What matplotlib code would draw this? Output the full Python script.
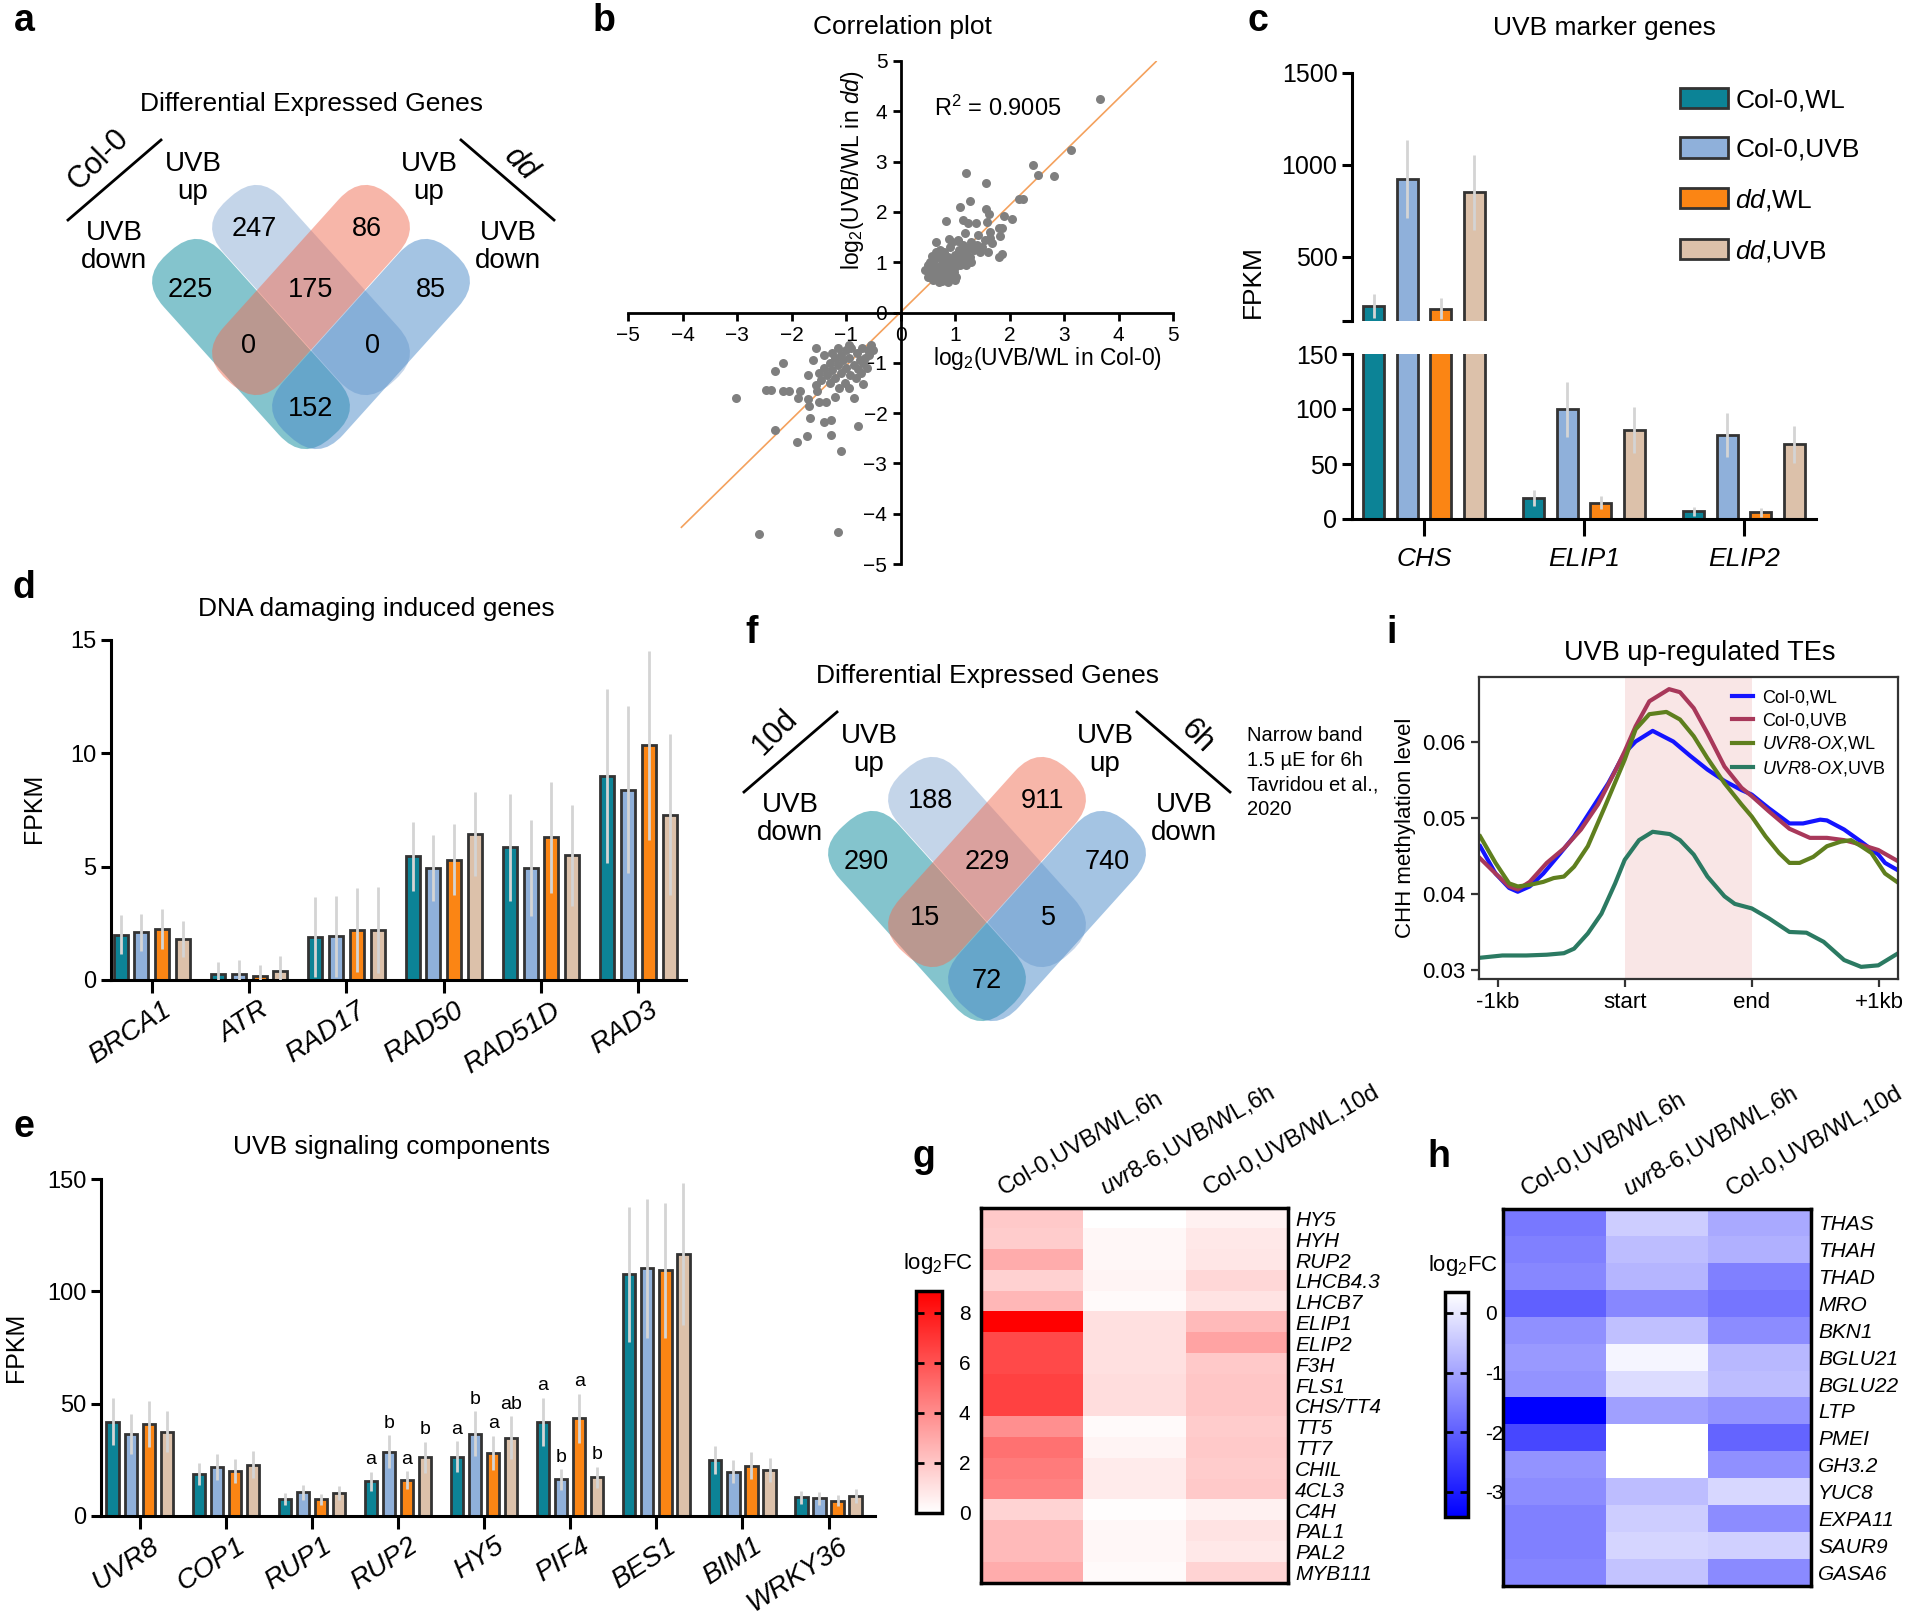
import numpy as np
import matplotlib
matplotlib.use("Agg")
import matplotlib.pyplot as plt
from matplotlib.patches import FancyBboxPatch, Patch
from matplotlib.transforms import Affine2D, offset_copy, ScaledTranslation
from matplotlib.colors import LinearSegmentedColormap

plt.rcParams['font.family'] = 'Liberation Sans'
plt.rcParams['mathtext.fontset'] = 'custom'
plt.rcParams['mathtext.rm'] = 'Liberation Sans'
plt.rcParams['mathtext.it'] = 'Liberation Sans:italic'
plt.rcParams['mathtext.default'] = 'regular'

# ---------------- data ----------------
# venn counts: Col-0 up only, dd up only, Col-0 down only, up/up, dd down only, down/up, up/down, down/down
venn_a_counts = [247, 86, 225, 175, 85, 0, 0, 152]
venn_f_counts = [188, 911, 290, 229, 740, 15, 5, 72]

# correlation plot (log2 UVB/WL, Col-0 vs dd)
up_pts = [(3.66, 4.25), (3.13, 3.23), (2.43, 2.94), (2.53, 2.74), (2.81, 2.71), (1.20, 2.77),
          (1.56, 2.58), (1.28, 2.21), (1.10, 2.10), (2.17, 2.26), (2.25, 2.26), (2.05, 1.85),
          (1.90, 1.92), (1.57, 2.05), (1.62, 1.96), (0.84, 1.81), (1.14, 1.83), (1.24, 1.78),
          (1.38, 1.77), (1.19, 1.58), (1.58, 1.80), (1.81, 1.67), (1.87, 1.68), (1.82, 1.52),
          (1.64, 1.48), (1.67, 1.39), (1.80, 1.11), (1.87, 1.17), (1.61, 1.21), (0.66, 1.41),
          (0.89, 1.46), (1.05, 1.42),
          (0.45, 0.85), (0.50, 0.95), (0.50, 0.70), (0.55, 0.80), (0.55, 1.00), (0.60, 0.90),
          (0.60, 0.65), (0.62, 1.05), (0.65, 0.75), (0.68, 0.90), (0.70, 1.10), (0.70, 0.60),
          (0.72, 0.80), (0.75, 0.95), (0.75, 0.70), (0.78, 1.05), (0.80, 0.85), (0.80, 1.20),
          (0.82, 0.65), (0.85, 0.95), (0.85, 0.75), (0.88, 1.10), (0.90, 0.85), (0.90, 1.30),
          (0.92, 0.70), (0.95, 1.00), (0.98, 0.80), (1.00, 1.15), (1.00, 0.90), (1.02, 0.70),
          (1.05, 1.05), (1.08, 1.25), (1.10, 0.95), (1.12, 1.15), (1.15, 1.35), (1.18, 1.05),
          (1.20, 1.20), (1.25, 1.30), (1.28, 1.10), (1.30, 1.40), (1.35, 1.25), (1.40, 1.35),
          (1.45, 1.20), (1.50, 1.30), (0.58, 1.12), (0.65, 1.20), (0.72, 1.25), (0.95, 1.40),
          (1.05, 1.45), (0.60, 0.78), (0.68, 0.68), (0.77, 0.62), (0.88, 0.60), (1.00, 0.65),
          (1.20, 0.95), (1.30, 1.00), (1.55, 1.45), (1.65, 1.60), (1.42, 1.55)]
down_pts = [(-3.02, -1.70), (-2.59, -4.40), (-1.14, -4.37), (-1.10, -2.76), (-1.90, -2.57),
            (-1.71, -2.46), (-1.27, -2.43), (-2.31, -2.34), (-0.78, -2.26), (-1.66, -2.10),
            (-1.40, -2.17), (-1.28, -2.14), (-2.31, -1.17), (-2.16, -1.01), (-2.47, -1.54),
            (-2.37, -1.54), (-2.16, -1.56), (-2.04, -1.56), (-1.88, -1.70), (-1.84, -1.56),
            (-1.70, -1.71), (-1.69, -1.25), (-1.55, -0.70), (-0.85, -1.70), (-0.68, -1.43),
            (-0.94, -1.51), (-1.21, -1.67), (-1.68, -1.86), (-1.50, -1.78), (-1.36, -1.77),
            (-1.54, -1.56),
            (-0.55, -0.65), (-0.60, -0.75), (-0.65, -0.90), (-0.70, -0.70), (-0.75, -0.95),
            (-0.80, -0.80), (-0.85, -1.05), (-0.90, -0.70), (-0.95, -0.90), (-1.00, -1.10),
            (-1.00, -0.75), (-1.05, -0.95), (-1.10, -1.20), (-1.10, -0.85), (-1.15, -1.05),
            (-1.20, -1.30), (-1.20, -0.90), (-1.25, -1.15), (-1.30, -1.40), (-1.30, -1.00),
            (-1.35, -1.25), (-1.40, -1.10), (-1.45, -1.35), (-1.50, -1.20), (-1.55, -1.45),
            (-1.60, -0.95), (-0.62, -1.10), (-0.72, -1.20), (-0.82, -1.30), (-0.92, -1.25),
            (-1.02, -1.40), (-1.12, -1.50), (-0.58, -0.85), (-0.68, -1.00), (-0.78, -1.12),
            (-1.40, -0.85), (-1.25, -0.80), (-0.95, -0.65), (-1.15, -0.70), (-0.50, -0.75)]
fit_x = [-4.02, 4.69]
fit_y = [-4.27, 4.99]

group_labels = ['Col-0,WL', 'Col-0,UVB', r'$\it{dd}$,WL', r'$\it{dd}$,UVB']
bar_colors = ['#0c8396', '#8fb0da', '#fb8514', '#dcc1aa']

# c: UVB marker genes (FPKM)
c_genes = ['CHS', 'ELIP1', 'ELIP2']
c_mean = [[230, 923, 218, 851], [19, 100, 15, 81], [7, 76, 6, 68]]
c_err = [[65, 215, 57, 205], [7, 25, 6, 21], [4, 20, 4, 17]]

# d: DNA damaging induced genes
d_genes = ['BRCA1', 'ATR', 'RAD17', 'RAD50', 'RAD51D', 'RAD3']
d_mean = [[2.0, 2.1, 2.25, 1.8], [0.25, 0.27, 0.18, 0.38], [1.9, 1.92, 2.2, 2.2],
          [5.45, 4.95, 5.3, 6.45], [5.85, 4.95, 6.3, 5.5], [9.0, 8.4, 10.35, 7.3]]
d_err = [[0.85, 0.83, 0.87, 0.8], [0.55, 0.6, 0.5, 0.66], [1.75, 1.8, 1.85, 1.9],
         [1.54, 1.46, 1.57, 1.84], [2.35, 2.13, 2.45, 2.22], [3.83, 3.69, 4.17, 3.54]]

# e: UVB signaling components
e_genes = ['UVR8', 'COP1', 'RUP1', 'RUP2', 'HY5', 'PIF4', 'BES1', 'BIM1', 'WRKY36']
e_mean = [[41.9, 36.7, 40.9, 37.5], [18.5, 21.8, 20.0, 22.9], [7.6, 10.5, 7.4, 10.1],
          [15.5, 28.6, 16.0, 26.1], [26.4, 36.7, 28.1, 34.8], [41.9, 16.3, 43.4, 17.2],
          [107.5, 110.3, 109.3, 116.5], [24.9, 19.8, 22.4, 20.4], [8.3, 7.8, 6.8, 8.9]]
e_err = [[10.4, 8.9, 10.2, 9.1], [4.9, 5.6, 5.2, 6.0], [2.5, 3.3, 2.4, 3.2],
         [4.2, 7.4, 4.0, 7.0], [7.0, 10.0, 7.6, 9.6], [10.8, 4.6, 11.1, 4.7],
         [30.0, 31.0, 30.0, 31.7], [6.2, 5.0, 6.0, 5.2], [2.8, 2.7, 2.5, 3.1]]
e_letters = {3: ['a', 'b', 'a', 'b'], 4: ['a', 'b', 'a', 'ab'], 5: ['a', 'b', 'a', 'b']}

# g / h heatmaps (log2FC)
heat_cols = ['Col-0,UVB/WL,6h', r'$\it{uvr8}$-$\it{6}$,UVB/WL,6h', 'Col-0,UVB/WL,10d']
g_genes = ['HY5', 'HYH', 'RUP2', 'LHCB4.3', 'LHCB7', 'ELIP1', 'ELIP2', 'F3H', 'FLS1',
           'CHS/TT4', 'TT5', 'TT7', 'CHIL', '4CL3', 'C4H', 'PAL1', 'PAL2', 'MYB111']
g_col0_6h = [1.9, 1.8, 2.9, 1.6, 2.5, 8.87, 6.3, 6.3, 6.6, 6.6, 3.9, 4.9, 4.6, 4.4, 1.5, 2.4, 2.4, 2.9]
g_uvr8_6h = [0.0, 0.3, 0.3, 0.4, 0.2, 1.1, 1.1, 1.1, 1.2, 1.2, 0.2, 0.4, 0.7, 0.7, 0.1, 0.3, 0.3, 0.2]
g_col0_10d = [0.5, 0.8, 0.9, 1.4, 1.0, 2.4, 3.2, 1.9, 2.0, 2.0, 1.8, 1.9, 1.8, 1.9, 0.5, 1.0, 0.8, 1.5]

h_genes = ['THAS', 'THAH', 'THAD', 'MRO', 'BKN1', 'BGLU21', 'BGLU22', 'LTP', 'PMEI',
           'GH3.2', 'YUC8', 'EXPA11', 'SAUR9', 'GASA6']
h_col0_6h = [-1.65, -1.53, -1.42, -2.0, -1.29, -1.16, -1.23, -3.42, -2.36, -1.23, -1.35, -1.53, -1.53, -1.46]
h_uvr8_6h = [-0.4, -0.63, -0.74, -1.42, -0.59, 0.2, -0.17, -1.05, 0.35, 0.35, -0.63, -0.4, -0.27, -0.52]
h_col0_10d = [-0.93, -0.82, -1.53, -1.69, -1.35, -0.7, -0.63, -1.23, -1.94, -1.29, -0.25, -1.35, -0.35, -1.38]

# i: CHH methylation profiles (-1kb=0, start=1, end=2, +1kb=3)
i_wl_x = [-0.137, -0.016, 0.091, 0.159, 0.253, 0.360, 0.495, 0.602, 0.737, 0.871, 1.0, 1.086,
          1.220, 1.382, 1.516, 1.651, 1.785, 1.919, 2.0, 2.134, 2.296, 2.403, 2.538, 2.591,
          2.726, 2.860, 2.995, 3.048, 3.142]
i_wl_y = [0.0463, 0.0427, 0.0408, 0.0403, 0.0410, 0.0427, 0.0454, 0.0476, 0.0511, 0.0546,
          0.0586, 0.0601, 0.0615, 0.0601, 0.0582, 0.0564, 0.0549, 0.0537, 0.0531, 0.0513,
          0.0493, 0.0493, 0.0498, 0.0497, 0.0485, 0.0469, 0.0452, 0.0441, 0.0432]
i_uvb_x = [-0.137, -0.016, 0.091, 0.159, 0.253, 0.387, 0.522, 0.656, 0.790, 0.925, 1.0, 1.086,
           1.194, 1.349, 1.435, 1.543, 1.651, 1.785, 1.919, 2.0, 2.134, 2.296, 2.457, 2.591,
           2.726, 2.860, 2.995, 3.142]
i_uvb_y = [0.0447, 0.0427, 0.0410, 0.0406, 0.0416, 0.0441, 0.0460, 0.0485, 0.0518, 0.0562,
           0.0588, 0.0621, 0.0654, 0.0670, 0.0666, 0.0645, 0.0612, 0.0568, 0.0540, 0.0529,
           0.0509, 0.0486, 0.0474, 0.0474, 0.0471, 0.0465, 0.0458, 0.0444]
i_oxwl_x = [-0.137, -0.016, 0.091, 0.159, 0.253, 0.360, 0.441, 0.522, 0.602, 0.710, 0.844, 1.0,
            1.086, 1.194, 1.328, 1.435, 1.543, 1.651, 1.785, 1.919, 2.0, 2.108, 2.215, 2.296,
            2.376, 2.484, 2.591, 2.699, 2.780, 2.860, 2.941, 3.048, 3.142]
i_oxwl_y = [0.0476, 0.0441, 0.0414, 0.0410, 0.0412, 0.0416, 0.0421, 0.0423, 0.0436, 0.0463,
            0.0515, 0.0577, 0.0617, 0.0637, 0.0640, 0.0630, 0.0608, 0.0579, 0.0546, 0.0518,
            0.0502, 0.0476, 0.0454, 0.0441, 0.0441, 0.0449, 0.0463, 0.0469, 0.0471, 0.0463,
            0.0454, 0.0427, 0.0416]
i_oxuvb_x = [-0.137, 0.038, 0.226, 0.387, 0.522, 0.602, 0.710, 0.817, 0.925, 1.0, 1.113, 1.220,
             1.355, 1.435, 1.543, 1.651, 1.785, 1.866, 2.0, 2.134, 2.296, 2.430, 2.565, 2.726,
             2.860, 2.995, 3.142]
i_oxuvb_y = [0.0316, 0.0319, 0.0319, 0.0320, 0.0322, 0.0328, 0.0348, 0.0374, 0.0414, 0.0445,
             0.0471, 0.0482, 0.0479, 0.0471, 0.0452, 0.0423, 0.0397, 0.0387, 0.0381, 0.0368,
             0.0350, 0.0349, 0.0337, 0.0313, 0.0304, 0.0306, 0.0321]
i_labels = ['Col-0,WL', 'Col-0,UVB', r'$\it{UVR8}$-$\it{OX}$,WL', r'$\it{UVR8}$-$\it{OX}$,UVB']
i_colors = ['#1414ff', '#a8385a', '#5f7f1e', '#2b7a62']

# ---------------- figure ----------------
W, H = 1920, 1616
fig = plt.figure(figsize=(W / 100, H / 100), dpi=100)


def box(l, t, r, b):
    return [l / W, 1 - b / H, (r - l) / W, (b - t) / H]


# pixel overlay for venns and panel letters
ov = fig.add_axes([0, 0, 1, 1])
ov.set_xlim(0, W)
ov.set_ylim(H, 0)
ov.axis('off')


def venn(cx, cy, counts, tag_l, tag_r, tag_r_it=False):
    L, Wd, r, ang = 246, 80, 37, 48
    shapes = [((-60, 54), ang, '#0b8a9c'), ((0, 0), ang, '#8bacd5'),
              ((0, 0), -ang, '#f06e55'), ((60, 54), -ang, '#4a8ac9')]
    for (dx, dy), a, col in shapes:
        x0, y0 = cx + dx, cy + dy
        p = FancyBboxPatch((x0 - L / 2, y0 - Wd / 2), L, Wd,
                           boxstyle='round,pad=0,rounding_size=%d' % r,
                           fc=col, ec='none', alpha=0.5)
        p.set_transform(Affine2D().rotate_deg_around(x0, y0, a) + ov.transData)
        ov.add_patch(p)
    spots = [(-57, -61), (56, -61), (-121, 0), (0, 0), (120, 0), (-62, 56), (61, 56), (0, 119)]
    for (dx, dy), n in zip(spots, counts):
        ov.text(cx + dx, cy + dy, str(n), fontsize=19.5, ha='center', va='center')
    ov.text(cx, cy - 186, 'Differential Expressed Genes', fontsize=19, ha='center', va='center')
    ov.plot([cx - 243, cx - 150], [cy - 70, cy - 150], color='k', lw=2)
    ov.plot([cx + 150, cx + 243], [cy - 150, cy - 70], color='k', lw=2)
    ov.text(cx - 212, cy - 130, tag_l, fontsize=22, rotation=45, ha='center', va='center')
    ov.text(cx + 210, cy - 126, tag_r, fontsize=22, rotation=-45, ha='center', va='center',
            style='italic' if tag_r_it else 'normal')
    for sx in (-1, 1):
        ov.text(cx + sx * 118, cy - 112, 'UVB\nup', fontsize=20, ha='center', va='center', linespacing=1.1)
        ov.text(cx + sx * 197, cy - 43, 'UVB\ndown', fontsize=20, ha='center', va='center', linespacing=1.1)


venn(311, 290, venn_a_counts, 'Col-0', 'dd', True)
venn(987, 862, venn_f_counts, '10d', '6h')
ov.text(1247, 726, 'Narrow band\n1.5 \u00b5E for 6h\nTavridou et al.,\n2020', fontsize=14.5,
        ha='left', va='top', linespacing=1.38)

for lab, (x, y) in zip('abcdefghi', [(24, 21), (604, 21), (1258, 21), (24, 588), (24, 1127),
                                     (752, 633), (924, 1157), (1439, 1157), (1392, 633)]):
    ov.text(x, y, lab, fontsize=27, fontweight='bold', ha='center', va='center')

# ---------------- b: correlation ----------------
axb = fig.add_axes(box(628, 61, 1173, 564))
up = np.array(up_pts).T
dn = np.array(down_pts).T
axb.scatter(np.r_[up[0], dn[0]], np.r_[up[1], dn[1]], s=42, c='#7f7f7f', lw=0, zorder=3)
axb.plot(fit_x, fit_y, color='#f4a15d', lw=1.2, zorder=2)
axb.set_xlim(-5, 5)
axb.set_ylim(-5, 5)
for s in ('top', 'right'):
    axb.spines[s].set_visible(False)
axb.spines['left'].set_position(('data', 0))
axb.spines['bottom'].set_position(('data', 0))
for s in ('left', 'bottom'):
    axb.spines[s].set_linewidth(2)
axb.set_xticks(range(-5, 6))
axb.set_yticks(range(-5, 6))
axb.tick_params(labelsize=15, width=2, length=6)
axb.patch.set_alpha(0)
axb.text(1.78, 4.05, 'R$^2$ = 0.9005', fontsize=17, ha='center', va='center')
axb.text(2.7, -0.92, 'log$_2$(UVB/WL in Col-0)', fontsize=16.5, ha='center', va='center')
axb.text(-0.88, 2.83, r'log$_2$(UVB/WL in $\it{dd}$)', fontsize=16.5, ha='center', va='center', rotation=90)
fig.text(902 / W, 1 - 27 / H, 'Correlation plot', fontsize=19, ha='center', va='center')


# ---------------- bar helpers ----------------
def draw_bars(ax, means, errs, step, width, lw):
    means = np.array(means, dtype=float)
    errs = np.array(errs, dtype=float)
    xs0 = np.arange(means.shape[0])
    for k in range(4):
        xs = xs0 + (k - 1.5) * step
        ax.bar(xs, means[:, k], width, color=bar_colors[k], edgecolor='#333333', linewidth=lw, zorder=2)
        ax.vlines(xs, means[:, k] - errs[:, k], means[:, k] + errs[:, k], color='#d4d4d4', lw=2, zorder=3)


def style_axis(ax, labelsize=17):
    for s in ('top', 'right'):
        ax.spines[s].set_visible(False)
    for s in ('left', 'bottom'):
        ax.spines[s].set_linewidth(2.2)
    ax.tick_params(axis='both', width=2.2, labelsize=labelsize)
    ax.tick_params(axis='x', length=9)
    ax.tick_params(axis='y', length=7)


def rotated_genes(ax, genes, size=20):
    ax.set_xticks(range(len(genes)))
    ax.set_xticklabels(genes, rotation=33, ha='right', rotation_mode='anchor',
                       fontstyle='italic', fontsize=size)
    shift = ScaledTranslation(0.1, 0, fig.dpi_scale_trans)
    for t in ax.get_xticklabels():
        t.set_transform(t.get_transform() + shift)


# ---------------- c ----------------
axu = fig.add_axes(box(1352, 73, 1816, 321))
axl = fig.add_axes(box(1352, 354, 1816, 519))
for ax in (axu, axl):
    draw_bars(ax, c_mean, c_err, 0.21, 0.13, 2)
    ax.set_xlim(-0.45, 2.45)
    style_axis(ax, 18)
axu.spines['bottom'].set_visible(False)
axu.set_ylim(150, 1500)
axu.set_yticks([150, 500, 1000, 1500])
axu.set_yticklabels(['', '500', '1000', '1500'])
axu.set_xticks([])
axl.set_ylim(0, 150)
axl.set_yticks([0, 50, 100, 150])
axl.set_xticks(range(3))
axl.set_xticklabels(c_genes, fontstyle='italic', fontsize=19)
axl.tick_params(axis='x', length=12, pad=8)
handles = [Patch(fc=c, ec='#333333', lw=2) for c in bar_colors]
fig.legend(handles, group_labels, loc='upper left', bbox_to_anchor=(1680 / W, 1 - 88 / H),
           frameon=False, fontsize=19, handlelength=1.8, handleheight=0.8, handletextpad=0.3,
           labelspacing=0.95, borderpad=0, borderaxespad=0)
fig.text(1604 / W, 1 - 28 / H, 'UVB marker genes', fontsize=19, ha='center', va='center')
fig.text(1253 / W, 1 - 282 / H, 'FPKM', fontsize=19, ha='center', va='center', rotation=90)

# ---------------- d ----------------
axd = fig.add_axes(box(111, 640, 686, 980))
draw_bars(axd, d_mean, d_err, 0.214, 0.144, 2)
axd.set_xlim(-0.42, 5.49)
axd.set_ylim(0, 15)
axd.set_yticks([0, 5, 10, 15])
style_axis(axd)
rotated_genes(axd, d_genes)
fig.text(376 / W, 1 - 609 / H, 'DNA damaging induced genes', fontsize=19, ha='center', va='center')
fig.text(34 / W, 1 - 808 / H, 'FPKM', fontsize=18, ha='center', va='center', rotation=90)

# ---------------- e ----------------
axe = fig.add_axes(box(101, 1179, 875, 1516))
draw_bars(axe, e_mean, e_err, 0.21, 0.143, 2)
axe.set_xlim(-0.45, 8.54)
axe.set_ylim(0, 150)
axe.set_yticks([0, 50, 100, 150])
style_axis(axe)
rotated_genes(axe, e_genes)
for gi, lets in e_letters.items():
    for k, let in enumerate(lets):
        top = e_mean[gi][k] + e_err[gi][k]
        axe.text(gi + (k - 1.5) * 0.21, top + 1.5, let, fontsize=14, ha='center', va='bottom')
fig.text(392 / W, 1 - 1147 / H, 'UVB signaling components', fontsize=19, ha='center', va='center')
fig.text(16 / W, 1 - 1347 / H, 'FPKM', fontsize=18, ha='center', va='center', rotation=90)

# ---------------- i ----------------
axi = fig.add_axes(box(1479, 677, 1898, 979))
axi.axvspan(1, 2, color='#f9e6e6', lw=0, zorder=0)
for xs, ys, col, lab in zip([i_wl_x, i_uvb_x, i_oxwl_x, i_oxuvb_x],
                            [i_wl_y, i_uvb_y, i_oxwl_y, i_oxuvb_y], i_colors, i_labels):
    axi.plot(xs, ys, color=col, lw=3, label=lab, solid_joinstyle='round')
axi.set_xlim(-0.146, 3.15)
axi.set_ylim(0.0288, 0.0686)
axi.set_xticks([0, 1, 2, 3])
axi.set_xticklabels(['-1kb', 'start', 'end', '+1kb'])
axi.set_yticks([0.03, 0.04, 0.05, 0.06])
axi.set_yticklabels(['0.03', '0.04', '0.05', '0.06'])
for s in axi.spines.values():
    s.set_linewidth(1.6)
    s.set_color('#333333')
axi.tick_params(labelsize=16, width=1.6, length=6, color='#333333')
axi.legend(loc='upper right', frameon=False, fontsize=13, handlelength=1.2, handletextpad=0.5,
           labelspacing=0.3, borderaxespad=0.3)
fig.text(1700 / W, 1 - 653 / H, 'UVB up-regulated TEs', fontsize=19.5, ha='center', va='center')
fig.text(1406 / W, 1 - 828 / H, 'CHH methylation level', fontsize=16, ha='center', va='center', rotation=90)


# ---------------- g / h heatmaps ----------------
def heatmap(rect, crect, values, genes, cmap, vmin, vmax, ticks, ticklabels, logpos):
    ax = fig.add_axes(box(*rect))
    im = ax.imshow(np.array(values).T, cmap=cmap, vmin=vmin, vmax=vmax, aspect='auto',
                   interpolation='nearest')
    ax.yaxis.tick_right()
    ax.set_yticks(range(len(genes)))
    ax.set_yticklabels(genes, fontstyle='italic', fontsize=15)
    ax.set_xticks([])
    ax.tick_params(axis='y', length=0, pad=5)
    for s in ax.spines.values():
        s.set_linewidth(2.5)
    tr = offset_copy(ax.transData, fig=fig, x=-26, y=8, units='dots')
    for j, lab in enumerate(heat_cols):
        ax.text(j, -0.5, lab, transform=tr, rotation=30, rotation_mode='anchor',
                ha='left', va='bottom', fontsize=17)
    cax = fig.add_axes(box(*crect))
    cb = fig.colorbar(im, cax=cax, ticks=ticks)
    cb.ax.set_yticklabels(ticklabels)
    cb.outline.set_linewidth(2.5)
    cax.tick_params(direction='in', left=True, right=True, length=6, width=2, labelsize=15, pad=12)
    ov.text(logpos[0], logpos[1], 'log$_2$FC', fontsize=16, ha='center', va='center')


reds = LinearSegmentedColormap.from_list('wr', ['#ffffff', '#ff0000'])
blues = LinearSegmentedColormap.from_list('bw', ['#0000ff', '#ffffff'])
heatmap((981, 1208, 1288, 1583), (916, 1291, 942, 1513), [g_col0_6h, g_uvr8_6h, g_col0_10d],
        g_genes, reds, 0, 8.87, [0, 2, 4, 6, 8], ['0', '2', '4', '6', '8'], (938, 1263))
heatmap((1503, 1209, 1811, 1586), (1445, 1292, 1468, 1517), [h_col0_6h, h_uvr8_6h, h_col0_10d],
        h_genes, blues, -3.42, 0.35, [0, -1, -2, -3], ['0', '-1', '-2', '-3'], (1463, 1265))

fig.savefig('out.png', dpi=100)
